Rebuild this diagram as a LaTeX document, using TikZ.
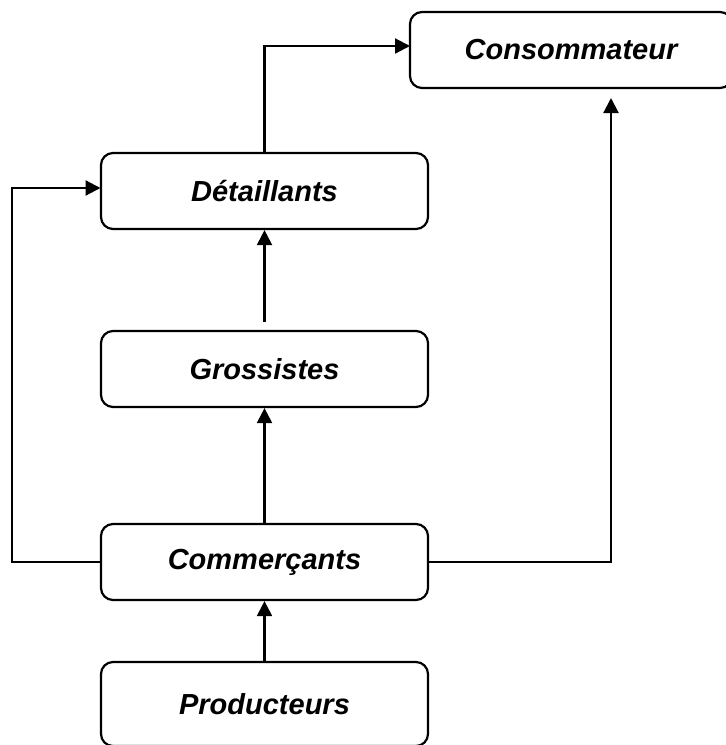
\documentclass[tikz,border=0pt]{standalone}
\usepackage{fontspec}
\setmainfont{Liberation Sans}
\usetikzlibrary{arrows.meta}
\begin{document}
\begin{tikzpicture}[x=1pt,y=-1pt,
  box/.style={draw, line width=2.2pt, rounded corners=12pt, inner sep=0pt,
    minimum width=327pt, minimum height=76pt,
    font=\fontsize{29}{34}\selectfont\bfseries\itshape},
  conn/.style={line width=2.2pt},
  arr/.style={conn, -{Triangle[length=15pt,width=15pt]}}]
\useasboundingbox (0,0) rectangle (726,745);
\node[box, minimum width=322pt] (cons) at (571,50) {Consommateur};
\node[box] (det) at (264.5,191) {Détaillants};
\node[box] (gros) at (264.5,369) {Grossistes};
\node[box] (comm) at (264.5,562) {Commerçants};
\node[box, minimum height=84pt] (prod) at (264.5,704) {Producteurs};
\coordinate (gtop) at (264.5,322);
\coordinate (cbot) at (611,98);
\coordinate (dturn) at (264.5,46);
\coordinate (cin) at (410,46);
\coordinate (lturn) at (12,562);
\coordinate (din) at (100.5,188);
\draw[arr] (prod.north) -- (comm.south);
\draw[arr] (comm.north) -- (gros.south);
\draw[arr] (gtop) -- (det.south);
\draw[arr] (det.north) -- (dturn) -- (cin);
\draw[arr] (comm.west) -- (lturn) |- (din);
\draw[arr] (comm.east) -| (cbot);
\end{tikzpicture}
\end{document}
